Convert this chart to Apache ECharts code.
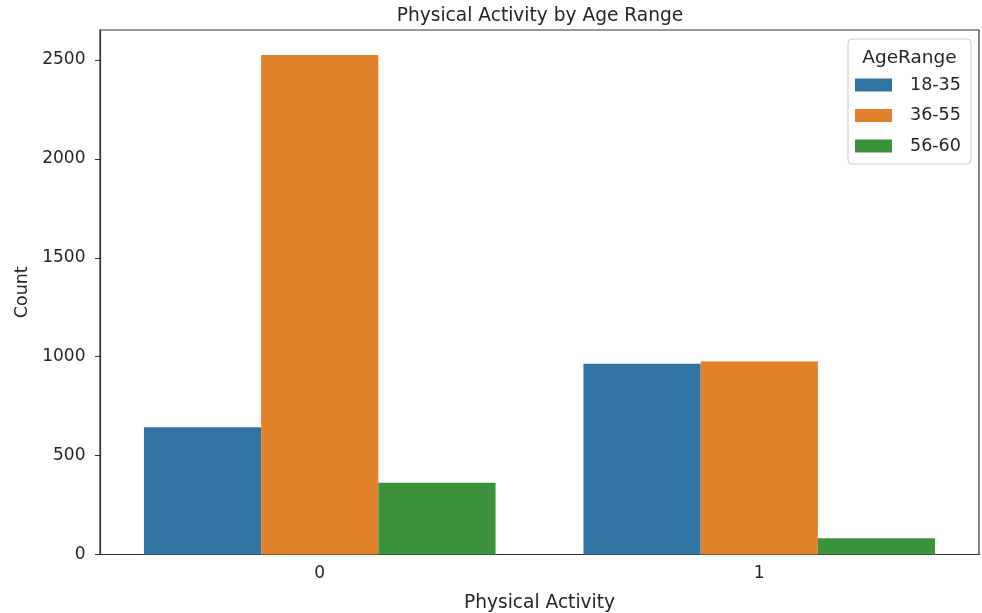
<!DOCTYPE html>
<html>
<head>
<meta charset="utf-8">
<script src="https://cdn.jsdelivr.net/npm/echarts@6/dist/echarts.min.js"></script>
<style>html,body{margin:0;padding:0;background:#fff}#c{width:982px;height:613px}</style>
</head>
<body>
<div id="c"></div>
<script>
const categories = ['0', '1'];
const ageRanges = ['18-35', '36-55', '56-60'];
const values_18_35 = [643, 965];
const values_36_55 = [2526, 976];
const values_56_60 = [363, 82];
const yTicks = [0, 500, 1000, 1500, 2000, 2500];

const colors = ['#3274a1', '#e1812c', '#3a923a'];
const font = 'DejaVu Sans';
const seriesValues = [values_18_35, values_36_55, values_56_60];

const chart = echarts.init(document.getElementById('c'), null, {renderer: 'canvas'});
chart.setOption({
  animation: false,
  backgroundColor: '#fff',
  textStyle: {fontFamily: font},
  title: {
    text: 'Physical Activity by Age Range',
    left: 540, top: 7, padding: 0, textAlign: 'center',
    textStyle: {fontFamily: font, fontSize: 18.6, fontWeight: 'normal', color: '#262626'}
  },
  grid: {left: 100, right: 3, top: 30, bottom: 58.5, containLabel: false, outerBoundsMode: 'none',
    show: true, borderColor: '#333', borderWidth: 1.2, backgroundColor: 'transparent'},
  legend: {
    orient: 'vertical', left: 855, top: 76, z: 100, padding: 0,
    itemWidth: 37, itemHeight: 13, itemGap: 12.5,
    icon: 'rect',
    textStyle: {fontFamily: font, fontSize: 17.5, color: '#262626', padding: [0, 0, 0, 13]},
    data: ageRanges
  },
  graphic: [
    {type: 'rect', shape: {x: 848, y: 39, width: 123, height: 125, r: 4}, style: {fill: 'rgba(255,255,255,0.8)', stroke: '#cccccc', lineWidth: 1}, z: 1},
    {type: 'text', x: 909.5, y: 58, style: {text: 'AgeRange', fontFamily: font, fontSize: 18.5, fill: '#262626', textAlign: 'center', textVerticalAlign: 'middle'}, z: 101}
  ],
  xAxis: {
    type: 'category', data: categories,
    name: 'Physical Activity', nameLocation: 'middle', nameGap: 39,
    nameTextStyle: {fontFamily: font, fontSize: 18.6, color: '#262626'},
    axisLine: {lineStyle: {color: '#333', width: 1.2}},
    axisTick: {alignWithLabel: true, length: 5, lineStyle: {color: '#333'}},
    axisLabel: {fontFamily: font, fontSize: 17, color: '#262626', margin: 11}
  },
  yAxis: {
    type: 'value', min: 0, max: 2652, interval: 500,
    name: 'Count', nameLocation: 'middle', nameGap: 61, nameRotate: 90,
    nameTextStyle: {fontFamily: font, fontSize: 17.5, color: '#262626'},
    axisLine: {show: true, lineStyle: {color: '#333', width: 1.2}},
    axisTick: {show: true, length: 5, lineStyle: {color: '#333'}, customValues: yTicks},
    splitLine: {show: false},
    axisLabel: {fontFamily: font, fontSize: 17, color: '#262626', margin: 14.5, customValues: yTicks,
      formatter: v => yTicks.includes(v) ? String(v) : ''}
  },
  series: ageRanges.map((name, i) => ({
    name, type: 'bar', data: seriesValues[i],
    barGap: '0%', barCategoryGap: '20%',
    itemStyle: {color: colors[i]}, z: 2
  }))
});
</script>
</body>
</html>
